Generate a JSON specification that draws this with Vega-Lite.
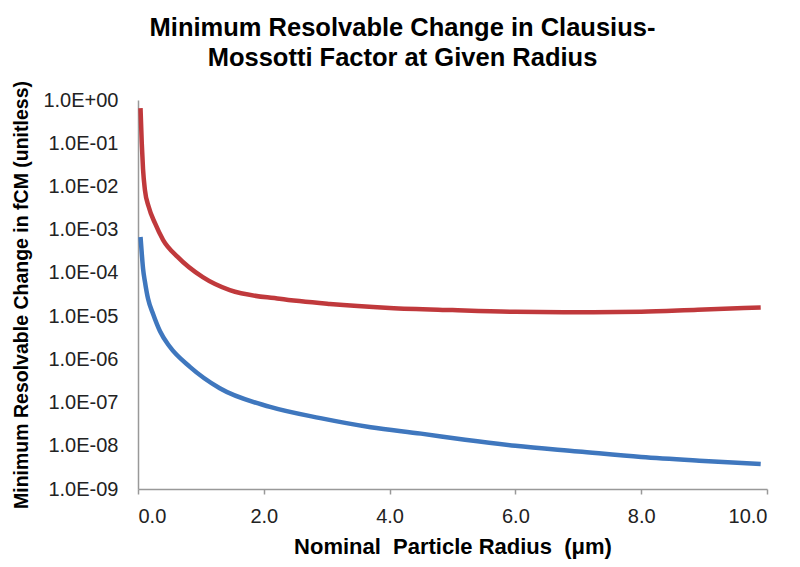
{
  "$schema": "https://vega.github.io/schema/vega-lite/v6.json",
  "width": 629,
  "height": 389,
  "autosize": {"type": "none"},
  "padding": {"left": 138, "top": 100, "right": 33, "bottom": 78},
  "background": "white",
  "config": {"view": {"stroke": null}, "font": "Liberation Sans"},
  "title": {
    "text": ["Minimum Resolvable Change in Clausius-", "Mossotti Factor at Given Radius"],
    "font": "Liberation Sans",
    "fontSize": 25.5,
    "fontWeight": "bold",
    "color": "#000000",
    "anchor": "middle",
    "frame": "group",
    "dx": -50,
    "offset": 6,
    "lineHeight": 30
  },
  "data": {
    "values": [
      {"series": "A", "r": 0.04, "v": 0.646},
      {"series": "A", "r": 0.06, "v": 0.1},
      {"series": "A", "r": 0.08, "v": 0.0251},
      {"series": "A", "r": 0.11, "v": 0.00832},
      {"series": "A", "r": 0.17, "v": 0.00339},
      {"series": "A", "r": 0.27, "v": 0.00141},
      {"series": "A", "r": 0.4, "v": 0.000575},
      {"series": "A", "r": 0.63, "v": 0.000234},
      {"series": "A", "r": 1.03, "v": 0.0000794},
      {"series": "A", "r": 1.46, "v": 0.0000398},
      {"series": "A", "r": 2.25, "v": 0.0000251},
      {"series": "A", "r": 3.05, "v": 0.0000191},
      {"series": "A", "r": 4.0, "v": 0.0000155},
      {"series": "A", "r": 5.0, "v": 0.0000138},
      {"series": "A", "r": 6.0, "v": 0.0000126},
      {"series": "A", "r": 7.0, "v": 0.0000123},
      {"series": "A", "r": 8.0, "v": 0.0000126},
      {"series": "A", "r": 8.9, "v": 0.0000141},
      {"series": "A", "r": 9.9, "v": 0.0000158},
      {"series": "B", "r": 0.04, "v": 0.000676},
      {"series": "B", "r": 0.06, "v": 0.000282},
      {"series": "B", "r": 0.08, "v": 0.000126},
      {"series": "B", "r": 0.11, "v": 0.0000631},
      {"series": "B", "r": 0.16, "v": 0.0000251},
      {"series": "B", "r": 0.24, "v": 0.0000112},
      {"series": "B", "r": 0.35, "v": 0.00000447},
      {"series": "B", "r": 0.5, "v": 0.000002},
      {"series": "B", "r": 0.83, "v": 0.000000661},
      {"series": "B", "r": 1.3, "v": 0.000000214},
      {"series": "B", "r": 2.1, "v": 0.0000000794},
      {"series": "B", "r": 2.9, "v": 0.0000000437},
      {"series": "B", "r": 3.7, "v": 0.0000000269},
      {"series": "B", "r": 4.5, "v": 0.0000000191},
      {"series": "B", "r": 5.2, "v": 0.0000000138},
      {"series": "B", "r": 6.0, "v": 0.00000001},
      {"series": "B", "r": 7.0, "v": 0.00000000741},
      {"series": "B", "r": 8.0, "v": 0.0000000055},
      {"series": "B", "r": 9.0, "v": 0.00000000447},
      {"series": "B", "r": 9.9, "v": 0.0000000038}
    ]
  },
  "mark": {"type": "line", "strokeWidth": 4.5, "interpolate": "monotone", "clip": true},
  "encoding": {
    "x": {
      "field": "r",
      "type": "quantitative",
      "scale": {"domain": [0, 10], "nice": false},
      "axis": {
        "title": "Nominal\u00a0 Particle Radius\u00a0 (μm)",
        "titleFont": "Liberation Sans",
        "titleFontSize": 22,
        "titleFontWeight": "bold",
        "titleColor": "#000000",
        "titlePadding": 10,
        "values": [0, 2, 4, 6, 8, 10],
        "format": ".1f",
        "labelFont": "Liberation Sans",
        "labelFontSize": 20,
        "labelColor": "#222222",
        "labelPadding": 12,
        "grid": false,
        "domainColor": "#999999",
        "domainWidth": 1.5,
        "tickColor": "#999999",
        "tickSize": 5,
        "tickWidth": 1.5
      }
    },
    "y": {
      "field": "v",
      "type": "quantitative",
      "scale": {"type": "log", "domain": [1e-9, 1], "nice": false},
      "axis": {
        "title": "Minimum Resolvable Change in  fCM (unitless)",
        "titleFont": "Liberation Sans",
        "titleFontSize": 19.5,
        "titleFontWeight": "bold",
        "titleColor": "#000000",
        "titlePadding": 11,
        "values": [1e-9, 1e-8, 1e-7, 1e-6, 1e-5, 1e-4, 1e-3, 1e-2, 1e-1, 1],
        "labelExpr": "'1.0E' + (datum.value >= 1 ? '+' : '-') + (abs(round(log(datum.value)/LN10)) < 10 ? '0' : '') + abs(round(log(datum.value)/LN10))",
        "labelFont": "Liberation Sans",
        "labelFontSize": 20,
        "labelColor": "#222222",
        "labelPadding": 20,
        "ticks": false,
        "grid": false,
        "domainColor": "#999999",
        "domainWidth": 1.5
      }
    },
    "color": {
      "field": "series",
      "type": "nominal",
      "scale": {"domain": ["A", "B"], "range": ["#C0393C", "#3F77BE"]},
      "legend": null
    }
  }
}
